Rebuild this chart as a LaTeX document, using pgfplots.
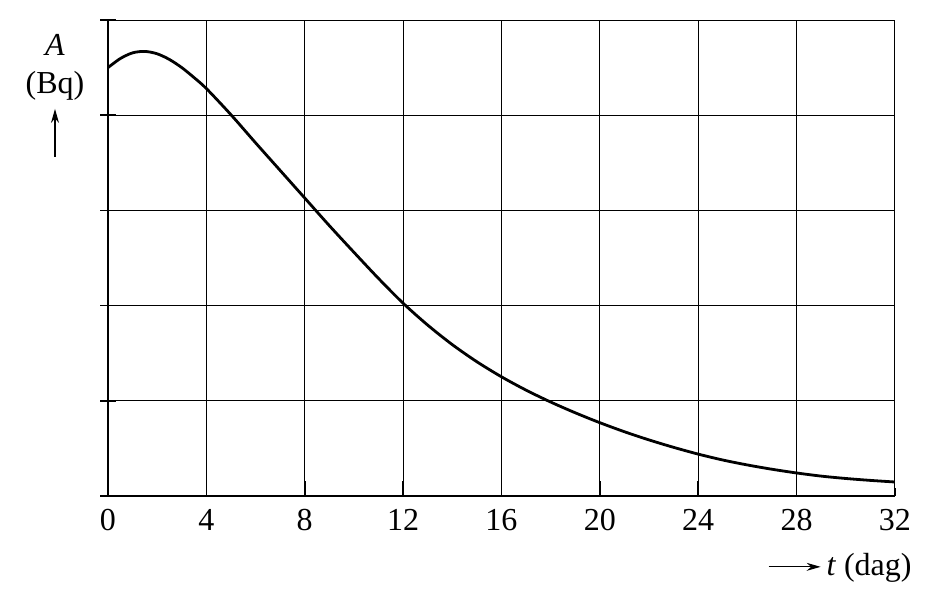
\documentclass[border=0pt]{standalone}
\usepackage{fontspec}
\setmainfont{Liberation Serif}
\usepackage{pgfplots}
\pgfplotsset{compat=1.18}
\usetikzlibrary{arrows.meta}

\begin{document}
\fontsize{16}{19}\selectfont
\begin{tikzpicture}
\begin{axis}[
    scale only axis,
    width=393.5pt, height=238pt,
    xmin=0, xmax=32, ymin=0, ymax=5,
    axis lines=left,
    axis line style={-, line width=1pt},
    xtick={0,4,...,32},
    ytick={0,1,...,5},
    yticklabels={},
    grid=major,
    grid style={black, line width=0.5pt},
    tick style={black, line width=0.8pt},
    major tick length=7.5pt,
    x tick style={shorten >=3.5pt},
    ytick align=center,
    xtick align=inside,
    /pgf/number format/assume math mode=true,
    ticklabel style={font=\fontsize{16}{19}\selectfont},
    xticklabel style={yshift=-1pt},
    xlabel={\tikz[baseline=-0.6ex]\draw[line width=0.6pt,-{Stealth[length=7pt,width=4pt]}] (0,0)--(26pt,0);\,\textit{t} (dag)},
    xlabel style={at={(axis description cs:1,0)}, anchor=east, xshift=8.5pt, yshift=-36pt, inner sep=0pt},
    ylabel={\textit{A}\\(Bq)\\[3pt]\tikz\draw[line width=0.6pt,-{Stealth[length=7pt,width=4pt]}] (0,0)--(0,24pt);},
    ylabel style={rotate=-90, at={(axis description cs:0,1)}, anchor=north, align=center, xshift=-26.5pt, yshift=-7pt, inner sep=0pt},
]
\addplot[black, line width=1.4pt, smooth] coordinates {
(0,4.50) (0.5,4.595) (1,4.655) (1.5,4.67) (2,4.645) (2.5,4.585) (3,4.50) (3.5,4.395)
(4,4.28) (5,4.005) (6,3.71) (7,3.42) (8,3.13) (9,2.84) (10,2.56) (11,2.285)
(12,2.025) (13,1.795) (14,1.59) (15,1.41) (16,1.252) (17,1.112) (18,0.987)
(19,0.874) (20,0.770) (21,0.675) (22,0.589) (23,0.511) (24,0.44) (25,0.378)
(26,0.326) (27,0.281) (28,0.242) (29,0.209) (30,0.184) (31,0.164) (32,0.147)
};
\end{axis}
\path (current axis.south west) ++(-54pt,-55.5pt) rectangle ++(469pt,303.5pt);
\end{tikzpicture}
\end{document}
